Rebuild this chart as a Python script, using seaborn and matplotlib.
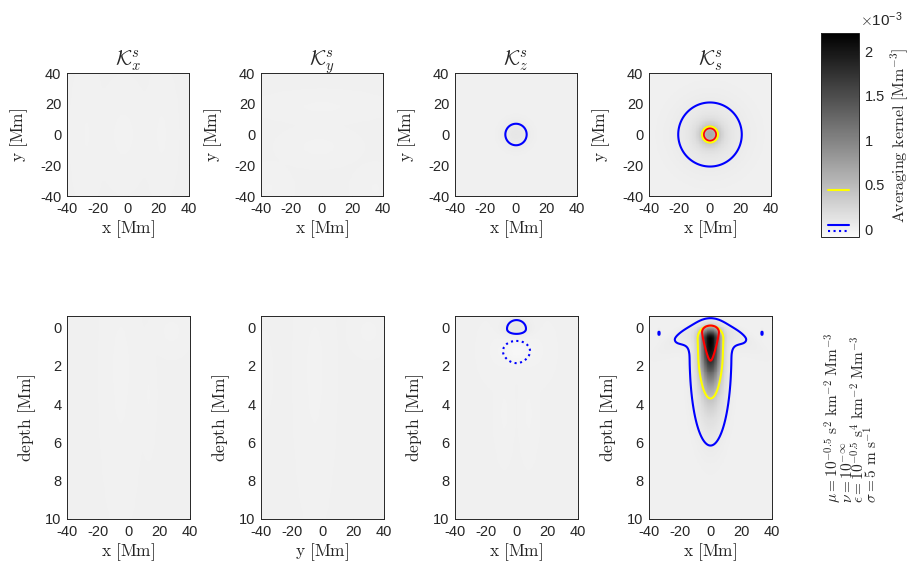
import numpy as np
import seaborn as sns
import matplotlib
matplotlib.use("Agg")
import matplotlib.pyplot as plt
from matplotlib.transforms import blended_transform_factory

# kernel values are in units of 1e-3 Mm^-3
# each component: (amplitude, x0, y0_or_depth0, sx, s_up, s_down)
kx_top = [(-0.015, -3, 0, 6, 13, 13), (-0.012, 22, 0, 4, 16, 16), (-0.010, -27, 0, 4, 18, 18)]
ky_top = [(-0.012, 0, 18, 16, 4, 4), (-0.015, -2, -8, 10, 5, 5),
          (-0.010, -35, -35, 6, 6, 6), (-0.010, 35, -35, 6, 6, 6)]
kz_top = [(0.09, 0, 0, 6.45, 6.45, 6.45)]
ks_top = [(0.53, 0, 0, 5.3, 5.3, 5.3), (0.12, 0, 0, 15.7, 15.7, 15.7)]
target_top = [(1.0, 0, 0, 3.4, 3.4, 3.4)]

kx_bot = [(-0.015, -5, 2, 5, 2, 3), (-0.015, 28, 0.2, 5, 0.5, 0.5), (-0.010, 13, 3.5, 2, 1.2, 1.2)]
ky_bot = [(-0.015, -5, 2, 5, 2, 3), (-0.015, 30, 0.2, 5, 0.5, 0.5), (-0.010, -38, 2.5, 2, 0.8, 0.8)]
kz_bot = [(0.09, 0, 0.1, 6, 0.45, 0.25), (-0.06, 0, 1.25, 5, 0.45, 0.45),
          (-0.015, -12, 1.2, 5, 0.7, 0.7), (-0.015, 12, 1.2, 5, 0.7, 0.7),
          (-0.012, -8, 4.5, 2.5, 1, 1), (-0.012, 8, 4.5, 2.5, 1, 1)]
ks_bot = [(2.0, 0, 0.6, 4.3, 0.36, 1.43), (0.35, 0, 2.0, 6.5, 1.0, 2.1),
          (0.06, -33.5, 0.3, 0.7, 0.15, 0.15), (0.06, 33.5, 0.3, 0.7, 0.15, 0.15)]
ks_cap = (0.12, 0, 0.15, 17.5, 0.3, 0.5)   # shallow wide lobe
cap_tilt = 0.35
target_bot = (1.0, 0, 0.3, 4.6, 0.34, 1.22)

level_target = 0.5
level_yellow = 0.44
level_blue = 0.05
level_blue_neg = -0.025
cmin, cmax = -0.09, 2.21

titles = [r"$\mathcal{K}_x^s$", r"$\mathcal{K}_y^s$", r"$\mathcal{K}_z^s$", r"$\mathcal{K}_s^s$"]
bottom_xlabels = ["x [Mm]", "y [Mm]", "x [Mm]", "x [Mm]"]
param_lines = [r"$\mu = 10^{-0.5}\ \mathrm{s}^{2}\ \mathrm{km}^{-2}\ \mathrm{Mm}^{-3}$",
               r"$\nu = 10^{-\infty}$",
               r"$\epsilon = 10^{-0.5}\ \mathrm{s}^{4}\ \mathrm{km}^{-2}\ \mathrm{Mm}^{-3}$",
               r"$\sigma = 5\ \mathrm{m\ s}^{-1}$"]

# grids
nx = 160
xc = -40 + (np.arange(nx) + 0.5) * 0.5
yc = 40 - (np.arange(nx) + 0.5) * 0.5
z_top, dz = -0.6, 0.05
nz = 212
zc = z_top + (np.arange(nz) + 0.5) * dz
XT, YT = np.meshgrid(xc, yc)
XB, ZB = np.meshgrid(xc, zc)


def blob(X, Y, amp, x0, y0, sx, s_up, s_dn):
    sy = np.where(Y < y0, s_up, s_dn)
    return amp * np.exp(-(X - x0) ** 2 / (2 * sx ** 2) - (Y - y0) ** 2 / (2 * sy ** 2))


def build(X, Y, comps):
    out = np.zeros_like(X)
    for c in comps:
        out += blob(X, Y, *c)
    return out


top_fields = [build(XT, YT, kx_top), build(XT, YT, ky_top),
              build(XT, YT, kz_top), build(XT, YT, ks_top)]
ks_b = build(XB, ZB, ks_bot)
a, x0, z0, sx, su, sd = ks_cap
ks_b += blob(XB, ZB - cap_tilt * (XB / 20) ** 2, a, x0, z0, sx, su, sd)
bot_fields = [build(XB, ZB, kx_bot), build(XB, ZB, ky_bot), build(XB, ZB, kz_bot), ks_b]

# target: narrows with depth
a, x0, z0, sx, su, sd = target_bot
sx_z = sx * np.clip(1 - 0.33 * (ZB - z0), 0.15, None)
target_b = a * np.exp(-XB ** 2 / (2 * sx_z ** 2)) * np.exp(-(ZB - z0) ** 2 / (2 * np.where(ZB < z0, su, sd) ** 2))
target_t = build(XT, YT, target_top)

sns.set_style("ticks")
plt.rcParams["font.family"] = ["Liberation Sans", "DejaVu Sans"]
plt.rcParams["mathtext.fontset"] = "cm"
dark = "#262626"

cmap = sns.blend_palette(["#fafafa", "#000000"], as_cmap=True)

W, H = 912, 572
fig = plt.figure(figsize=(W / 100, H / 100), dpi=100)


def px_axes(left, top, w, h):
    return fig.add_axes([left / W, 1 - (top + h) / H, w / W, h / H])


def style(ax):
    for s in ax.spines.values():
        s.set_visible(True)
        s.set_color(dark)
        s.set_linewidth(0.7)
    ax.tick_params(direction="in", length=3, width=0.6, color=dark, labelcolor=dark,
                   labelsize=10.5, top=True, right=True, pad=4)


lab_font = 12.5
ticks_h = [-40, -20, 0, 20, 40]
for i in range(4):
    left = 67 + 194 * i
    # top row
    ax = px_axes(left, 73, 122, 123)
    f = top_fields[i]
    sns.heatmap(f, ax=ax, cmap=cmap, vmin=cmin, vmax=cmax, cbar=False,
                xticklabels=False, yticklabels=False, rasterized=True)
    u = np.arange(nx) + 0.5
    ax.contour(u, u, f, levels=[level_blue], colors="blue", linewidths=1.5)
    ax.contour(u, u, f, levels=[level_blue_neg], colors="blue", linewidths=1.5, linestyles=":")
    ax.contour(u, u, f, levels=[level_yellow], colors="yellow", linewidths=1.5)
    if i == 3:
        ax.contour(u, u, target_t, levels=[level_target], colors="red", linewidths=1.2)
    ax.set_xlim(0, nx)
    ax.set_ylim(nx, 0)
    ax.set_xticks([(t + 40) / 0.5 for t in ticks_h])
    ax.set_xticklabels([str(t) for t in ticks_h], rotation=0)
    ax.set_yticks([(40 - t) / 0.5 for t in ticks_h[::-1]])
    ax.set_yticklabels([str(t) for t in ticks_h[::-1]], rotation=0)
    ax.set_xlabel(r"$\mathrm{x\ [Mm]}$", fontsize=lab_font, labelpad=2)
    ax.set_ylabel(r"$\mathrm{y\ [Mm]}$", fontsize=lab_font, labelpad=7)
    ax.set_title(titles[i], fontsize=15, pad=5)
    style(ax)

    # bottom row
    ax = px_axes(left, 316, 123, 203)
    f = bot_fields[i]
    sns.heatmap(f, ax=ax, cmap=cmap, vmin=cmin, vmax=cmax, cbar=False,
                xticklabels=False, yticklabels=False, rasterized=True)
    v = np.arange(nz) + 0.5
    ax.contour(u, v, f, levels=[level_blue], colors="blue", linewidths=1.5)
    ax.contour(u, v, f, levels=[level_blue_neg], colors="blue", linewidths=1.5, linestyles=":")
    ax.contour(u, v, f, levels=[level_yellow], colors="yellow", linewidths=1.5)
    if i == 3:
        ax.contour(u, v, target_b, levels=[level_target], colors="red", linewidths=1.5)
    ax.set_xlim(0, nx)
    ax.set_ylim(nz, 0)
    ax.set_xticks([(t + 40) / 0.5 for t in ticks_h])
    ax.set_xticklabels([str(t) for t in ticks_h], rotation=0)
    depth_ticks = [0, 2, 4, 6, 8, 10]
    ax.set_yticks([(d - z_top) / dz for d in depth_ticks])
    ax.set_yticklabels([str(d) for d in depth_ticks], rotation=0)
    ax.set_xlabel(r"$\mathrm{%s\ [Mm]}$" % bottom_xlabels[i][0], fontsize=lab_font, labelpad=2)
    ax.set_ylabel(r"$\mathrm{depth\ [Mm]}$", fontsize=lab_font, labelpad=5)
    style(ax)

# colorbar
cax = px_axes(821, 33, 38, 204)
sm = plt.cm.ScalarMappable(norm=plt.Normalize(cmin, cmax), cmap=cmap)
cb = fig.colorbar(sm, cax=cax)
cb.set_ticks([0, 0.5, 1, 1.5, 2])
cb.set_ticklabels(["0", "0.5", "1", "1.5", "2"])
cb.outline.set_edgecolor(dark)
cb.outline.set_linewidth(0.7)
cax.tick_params(direction="in", length=3, width=0.6, color=dark, labelcolor=dark,
                labelsize=10.5, left=True, right=True, pad=4)
tr = blended_transform_factory(cax.transAxes, cax.transData)
cax.plot([0.18, 0.75], [level_yellow, level_yellow], color="yellow", lw=1.5, transform=tr)
cax.plot([0.18, 0.75], [level_blue, level_blue], color="blue", lw=1.5, transform=tr)
cax.plot([0.18, 0.75], [level_blue_neg, level_blue_neg], color="blue", lw=1.5, ls=":", transform=tr)
fig.text(860 / W, 1 - 20 / H, r"$\times\mathdefault{10^{-3}}$", fontsize=11, color=dark,
         ha="left", va="center")
fig.text(900 / W, 1 - 135 / H, r"$\mathrm{Averaging\ kernel\ [Mm^{-3}]}$", fontsize=11.5,
         rotation=90, ha="center", va="center")

# parameter block, one text object so the lines stack like the original
fig.text(883 / W, 1 - 503 / H, "\n".join(param_lines), fontsize=11, rotation=90,
         rotation_mode="anchor", ha="left", va="baseline", multialignment="left",
         linespacing=0.66)

fig.savefig("out.png", dpi=100, facecolor="white")
